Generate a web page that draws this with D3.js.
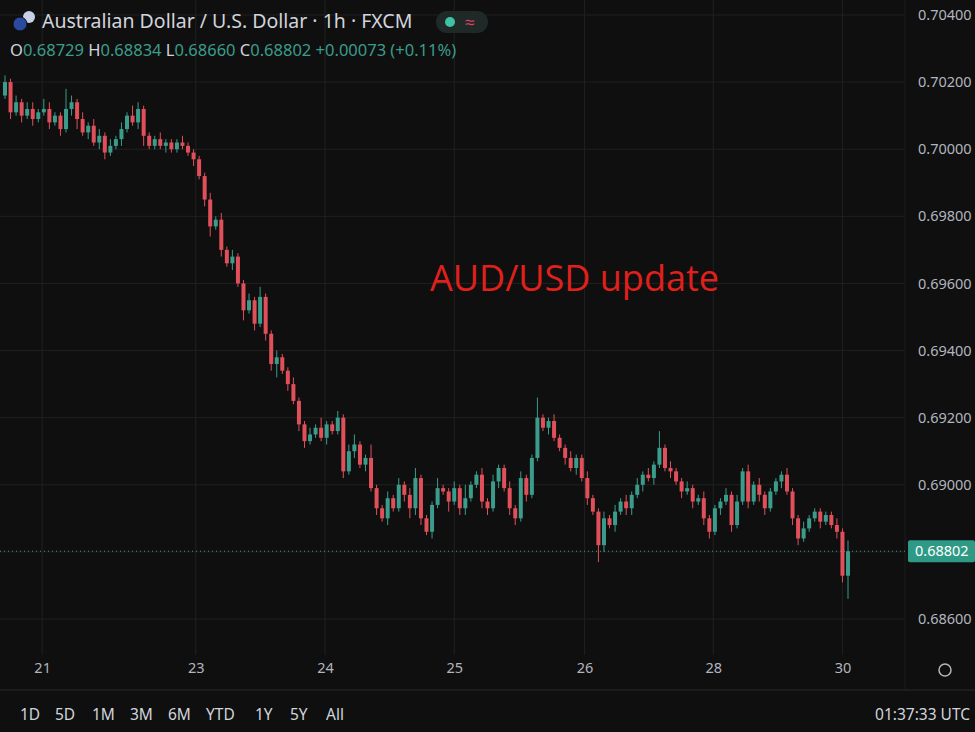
<!DOCTYPE html>
<html><head><meta charset="utf-8">
<script src="https://cdn.jsdelivr.net/npm/d3@7"></script>
<style>body{margin:0;background:#0f0f0f;font-family:"Noto Sans",sans-serif}</style>
</head><body><svg id="c" width="975" height="732"></svg>
<script>
const closes=[0.7020,0.7011,0.7014,0.7010,0.7012,0.7009,0.7011,0.7012,0.7008,0.7010,0.7006,
0.7012,0.7014,0.7009,0.7005,0.7007,0.7002,0.7004,
0.6999,0.7001,0.7003,0.7006,0.7010,0.7008,0.7012,0.7004,0.7001,
0.7003,0.7001,0.7002,0.7000,0.7002,0.7001,0.6999,0.6997,
0.6992,0.6985,0.6977,0.6979,0.6970,0.6966,0.6968,0.6960,0.6952,0.6955,0.6948,0.6956,0.6945,
0.6936,0.6938,0.6934,0.6930,0.6925,0.6918,0.6913,0.6915,0.6917,0.6914,0.6918,0.6916,0.6920,
0.6904,0.6910,0.6912,0.6906,0.6908,0.6899,0.6893,0.6890,0.6896,0.6893,0.6900,0.6897,
0.6893,0.6902,0.6890,0.6886,0.6894,0.6899,0.6898,0.6895,0.6899,0.6893,0.6896,0.6900,
0.6903,0.6895,0.6893,0.6901,0.6905,0.6899,0.6893,0.6890,0.6902,0.6897,0.6908,0.6920,
0.6917,0.6919,0.6914,0.6911,0.6908,0.6905,0.6908,0.6902,0.6896,0.6892,0.6882,0.6890,
0.6888,0.6892,0.6895,0.6893,0.6897,0.6900,0.6903,0.6902,0.6906,0.6911,0.6905,0.6904,
0.6901,0.6898,0.6899,0.6895,0.6896,0.6890,0.6886,0.6893,0.6895,0.6897,0.6888,0.6895,
0.6904,0.6895,0.6900,0.6897,0.6893,0.6898,0.6901,0.6903,0.6898,0.6890,0.6884,0.6887,
0.6890,0.6892,0.6889,0.6891,0.6888,0.6886,0.68729,0.68802];
const firstOpen=0.7016;
// wick lengths in pips beyond the body
const upperWick=[2,1,2,1,2,2,1,3,2,1,1, 6,2,1,2,1,2,2, 1,2,1,2,1,3,2,1,1, 1,2,1,1,1,2,1,1, 1,1,2,1,2,1,2,1,1,2,1,3,1, 1,2,1,1,2,1,1,2,1,3,1,1,2, 1,2,3,1,1,4,1,1,2,1,2,1, 2,3,1,1,1,3,1,1,2,1,4,1, 1,2,1,2,1,1,2,1,2,1,1,6, 1,1,2,1,1,2,1,1,2,1,1,2, 1,2,1,2,1,2,1,2,1,5,1,2, 1,1,2,1,1,2,1,1,1,2,1,2, 1,2,1,2,1,1,1,1,2,1,1,2, 1,1,1,1,1,2,1,1];
const lowerWick=[1,2,1,2,1,2,1,1,2,1,2, 1,2,3,1,2,1,2, 2,1,1,2,1,1,2,3,1, 1,1,2,1,1,1,1,2, 1,2,3,1,2,1,2,1,3,1,2,1,2, 2,4,1,2,1,2,2,1,1,1,2,1,1, 2,1,2,1,2,1,2,1,2,1,1,2, 3,2,2,1,2,1,1,3,1,2,2,1, 1,2,2,1,2,1,2,2,1,2,1,1, 1,2,1,1,2,1,2,1,2,1,5,2, 1,2,1,2,2,1,2,1,2,1,1,2, 1,2,1,2,1,2,2,1,2,1,2,1, 1,2,1,2,2,1,1,2,1,2,2,1, 1,1,2,1,1,2,2,6];
const priceTicks=[0.704,0.702,0.700,0.698,0.696,0.694,0.692,0.690,0.688,0.686];
const dayLabels=["21","23","24","25","26","28","30"];
const dayIndex=[6.7,34.4,57.7,81,104.5,127.7,151];
const ranges=["1D","5D","1M","3M","6M","YTD","1Y","5Y","All"];
const lastPrice=0.68802;

const svg=d3.select("#c");
const W=975,H=732,plotR=905,plotB=655;
svg.append("rect").attr("width",W).attr("height",H).attr("fill","#0f0f0f");
const x=d3.scaleLinear().domain([0,closes.length-1]).range([5,848]);
const y=d3.scaleLinear().domain([0.686,0.704]).range([619,15]);
const g=svg.append("g");
g.selectAll(".hg").data(priceTicks).join("line").attr("x1",0).attr("x2",plotR).attr("y1",d=>y(d)).attr("y2",d=>y(d)).attr("stroke","#202020");
g.selectAll(".vg").data(dayIndex).join("line").attr("x1",d=>x(d)).attr("x2",d=>x(d)).attr("y1",0).attr("y2",plotB).attr("stroke","#202020");
// the label nearest the last price is covered by the price tag, as in the reference
const ya=d3.axisRight(y).tickValues(priceTicks.filter(t=>Math.abs(t-lastPrice)>0.0002)).tickFormat(d3.format(".5f")).tickSize(0);
const yg=svg.append("g").attr("transform",`translate(${plotR+10},0)`).call(ya);
yg.select(".domain").remove();
yg.selectAll("text").attr("fill","#b2b5be").style("font-size","14.5px").style("font-family","Noto Sans");
const xa=d3.axisBottom(x).tickValues(dayIndex).tickFormat((d,i)=>dayLabels[i]).tickSize(0);
const xg=svg.append("g").attr("transform",`translate(0,660)`).call(xa);
xg.select(".domain").remove();
xg.selectAll("text").attr("fill","#b2b5be").style("font-size","14.5px").style("font-family","Noto Sans");
svg.append("line").attr("x1",0).attr("x2",W).attr("y1",690).attr("y2",690).attr("stroke","#2a2a2a");
svg.append("line").attr("x1",plotR).attr("x2",plotR).attr("y1",0).attr("y2",690).attr("stroke","#1c1c1c");
const data=closes.map((c,i)=>{const o=i?closes[i-1]:firstOpen;return{i,o,c,h:Math.max(o,c)+upperWick[i]*0.0001,l:Math.min(o,c)-lowerWick[i]*0.0001};});
data[data.length-1].h=0.68834;data[data.length-1].l=0.68660;
const up="#3b9c8c",dn="#e0505a";
const cg=svg.append("g");
cg.selectAll("line").data(data).join("line").attr("x1",d=>x(d.i)).attr("x2",d=>x(d.i)).attr("y1",d=>y(d.h)).attr("y2",d=>y(d.l)).attr("stroke",d=>d.c>=d.o?up:dn).attr("stroke-width",1);
cg.selectAll("rect").data(data).join("rect").attr("x",d=>x(d.i)-2).attr("width",4).attr("y",d=>y(Math.max(d.o,d.c))).attr("height",d=>Math.max(1,Math.abs(y(d.o)-y(d.c)))).attr("fill",d=>d.c>=d.o?up:dn);
svg.append("line").attr("x1",0).attr("x2",plotR).attr("y1",y(lastPrice)).attr("y2",y(lastPrice)).attr("stroke","#3b9c8c").attr("stroke-dasharray","1,3");
svg.append("rect").attr("x",908).attr("y",y(lastPrice)-11).attr("width",67).attr("height",22).attr("fill","#2e9a86").attr("rx",2);
svg.append("text").attr("x",915).attr("y",y(lastPrice)+5).text("0.68802").attr("fill","#fff").style("font-size","14.5px");
svg.append("text").attr("x",430).attr("y",291).text("AUD/USD update").attr("fill","#e0201b").style("font-size","36px").style("font-family","Open Sans");
svg.append("circle").attr("cx",29).attr("cy",17).attr("r",6).attr("fill","#c8d0e8");
svg.append("circle").attr("cx",20).attr("cy",24).attr("r",7).attr("fill","#2a4aa0").attr("stroke","#0f0f0f");
svg.append("text").attr("x",42).attr("y",28).text("Australian Dollar / U.S. Dollar · 1h · FXCM").attr("fill","#d1d4dc").style("font-size","19.5px");
svg.append("rect").attr("x",436).attr("y",11).attr("width",52).attr("height",22).attr("rx",11).attr("fill","#1f2a28");
svg.append("circle").attr("cx",450).attr("cy",22).attr("r",5).attr("fill","#3fc1a6");
svg.append("text").attr("x",465).attr("y",28).text("≈").attr("fill","#e0406a").style("font-size","17px");
const hdr=[["O","0.68729"],["H","0.68834"],["L","0.68660"],["C","0.68802"]];
const ht=svg.append("text").attr("x",10).attr("y",56).style("font-size","16.5px");
hdr.forEach(([k,v])=>{ht.append("tspan").text(k).attr("fill","#d1d4dc");ht.append("tspan").text(v+" ").attr("fill","#3b9c8c");});
ht.append("tspan").text("+0.00073 (+0.11%)").attr("fill","#3b9c8c");
const rx=[20,55,92,130,168,206,255,290,326];
svg.selectAll(".rg").data(ranges).join("text").attr("x",(d,i)=>rx[i]).attr("y",720).text(d=>d).attr("fill","#d1d4dc").style("font-size","15.5px");
svg.append("text").attr("x",970).attr("y",720).attr("text-anchor","end").text("01:37:33 UTC").attr("fill","#d1d4dc").style("font-size","15.5px");
svg.append("circle").attr("cx",945).attr("cy",670).attr("r",6).attr("fill","none").attr("stroke","#b2b5be").attr("stroke-width",1.5);
</script></body></html>
